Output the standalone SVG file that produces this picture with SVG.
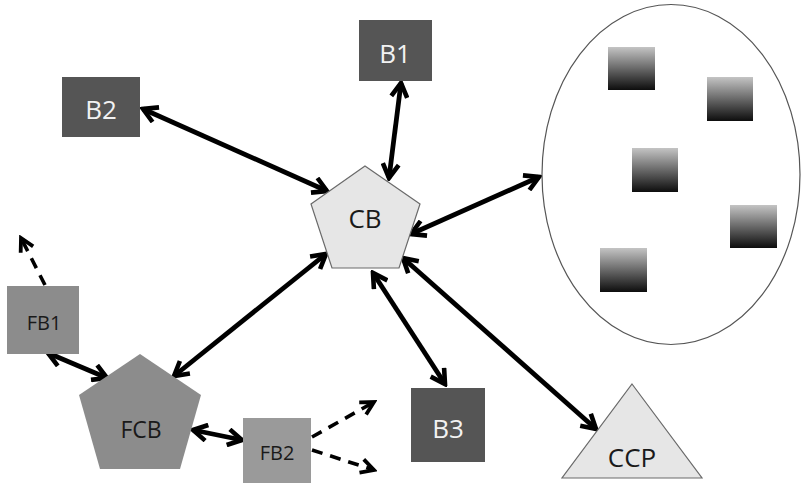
<svg xmlns="http://www.w3.org/2000/svg" width="802" height="483" viewBox="0 0 802 483">
<style>
.dark{fill:#555555;}
.mid{fill:#8c8c8c;}
.light{fill:#e6e6e6;stroke:#6a6a6a;stroke-width:1.2;}
.sq{fill:url(#g);}
text{font-family:"Open Sans","Liberation Sans",sans-serif;text-anchor:middle;}
.w{fill:#f2f2f2;font-size:26px;}
.k{fill:#1a1a1a;font-size:26px;}
.ks{fill:#1a1a1a;font-size:20px;}
.c{fill:none;stroke:#000;stroke-width:4.8;marker-start:url(#ah);marker-end:url(#ah);}
.d{fill:none;stroke:#000;stroke-width:3.6;stroke-dasharray:11 8;marker-end:url(#ahd);}
</style>
<defs>
<linearGradient id="g" x1="0" y1="0" x2="0" y2="1">
<stop offset="0" stop-color="#c4c4c4"/>
<stop offset="1" stop-color="#0d0d0d"/>
</linearGradient>
<marker id="ah" viewBox="0 0 20 20" refX="17" refY="10" markerWidth="20" markerHeight="20" markerUnits="userSpaceOnUse" orient="auto-start-reverse">
<path d="M3,2 L17,10 L3,18" fill="none" stroke="#000" stroke-width="4.6" stroke-linejoin="miter"/>
</marker>
<marker id="ahd" viewBox="0 0 20 20" refX="17" refY="10" markerWidth="20" markerHeight="20" markerUnits="userSpaceOnUse" orient="auto">
<path d="M4,3 L17,10 L4,17" fill="none" stroke="#000" stroke-width="3.8" stroke-linejoin="miter"/>
</marker>
</defs>
<rect width="802" height="483" fill="#ffffff"/>
<g id="connectors">
<line class="c" x1="143" y1="109" x2="327" y2="191"/>
<line class="c" x1="401" y1="83" x2="389" y2="178"/>
<line class="c" x1="411" y1="234" x2="539" y2="177"/>
<line class="c" x1="326" y1="254" x2="174" y2="376"/>
<line class="c" x1="373" y1="273" x2="445" y2="384"/>
<line class="c" x1="403" y1="258" x2="596" y2="429"/>
<line class="c" x1="48" y1="353" x2="107" y2="378"/>
<line class="c" x1="193" y1="430" x2="242" y2="440"/>
<line class="d" x1="45" y1="285" x2="21" y2="238"/>
<line class="d" x1="312" y1="437" x2="374" y2="402"/>
<line class="d" x1="312" y1="450" x2="374" y2="470"/>
</g>
<g id="B2"><rect class="dark" x="62" y="77" width="78" height="60"/><text class="w" x="101" y="119">B2</text></g>
<g id="B1"><rect class="dark" x="359" y="20" width="73" height="61"/><text class="w" x="395" y="63">B1</text></g>
<g id="CB"><polygon class="light" points="365,166 420,204 399,268 332,268 311,204"/><text class="k" x="365" y="228">CB</text></g>
<g id="cluster">
<ellipse cx="671" cy="174.5" rx="129" ry="170" fill="none" stroke="#555" stroke-width="1.2"/>
<rect class="sq" x="608" y="47" width="47" height="43"/>
<rect class="sq" x="707" y="77" width="46" height="44"/>
<rect class="sq" x="632" y="148" width="46" height="44"/>
<rect class="sq" x="730" y="205" width="47" height="43"/>
<rect class="sq" x="600" y="248" width="47" height="44"/>
</g>
<g id="FB1"><rect class="mid" x="7" y="286" width="72" height="68"/><text class="ks" x="44" y="330">FB1</text></g>
<g id="FCB"><polygon class="mid" points="140,354 201,395 180,469 100,469 79,395"/><text class="k" x="141" y="438" style="font-size:23px">FCB</text></g>
<g id="FB2"><rect x="243" y="418" width="68" height="65" fill="#9a9a9a"/><text class="ks" x="277" y="460">FB2</text></g>
<g id="B3"><rect class="dark" x="411" y="388" width="74" height="74"/><text class="w" x="448" y="438">B3</text></g>
<g id="CCP"><polygon class="light" points="632,384 702,478 562,478"/><text class="k" x="632" y="467">CCP</text></g>
</svg>
